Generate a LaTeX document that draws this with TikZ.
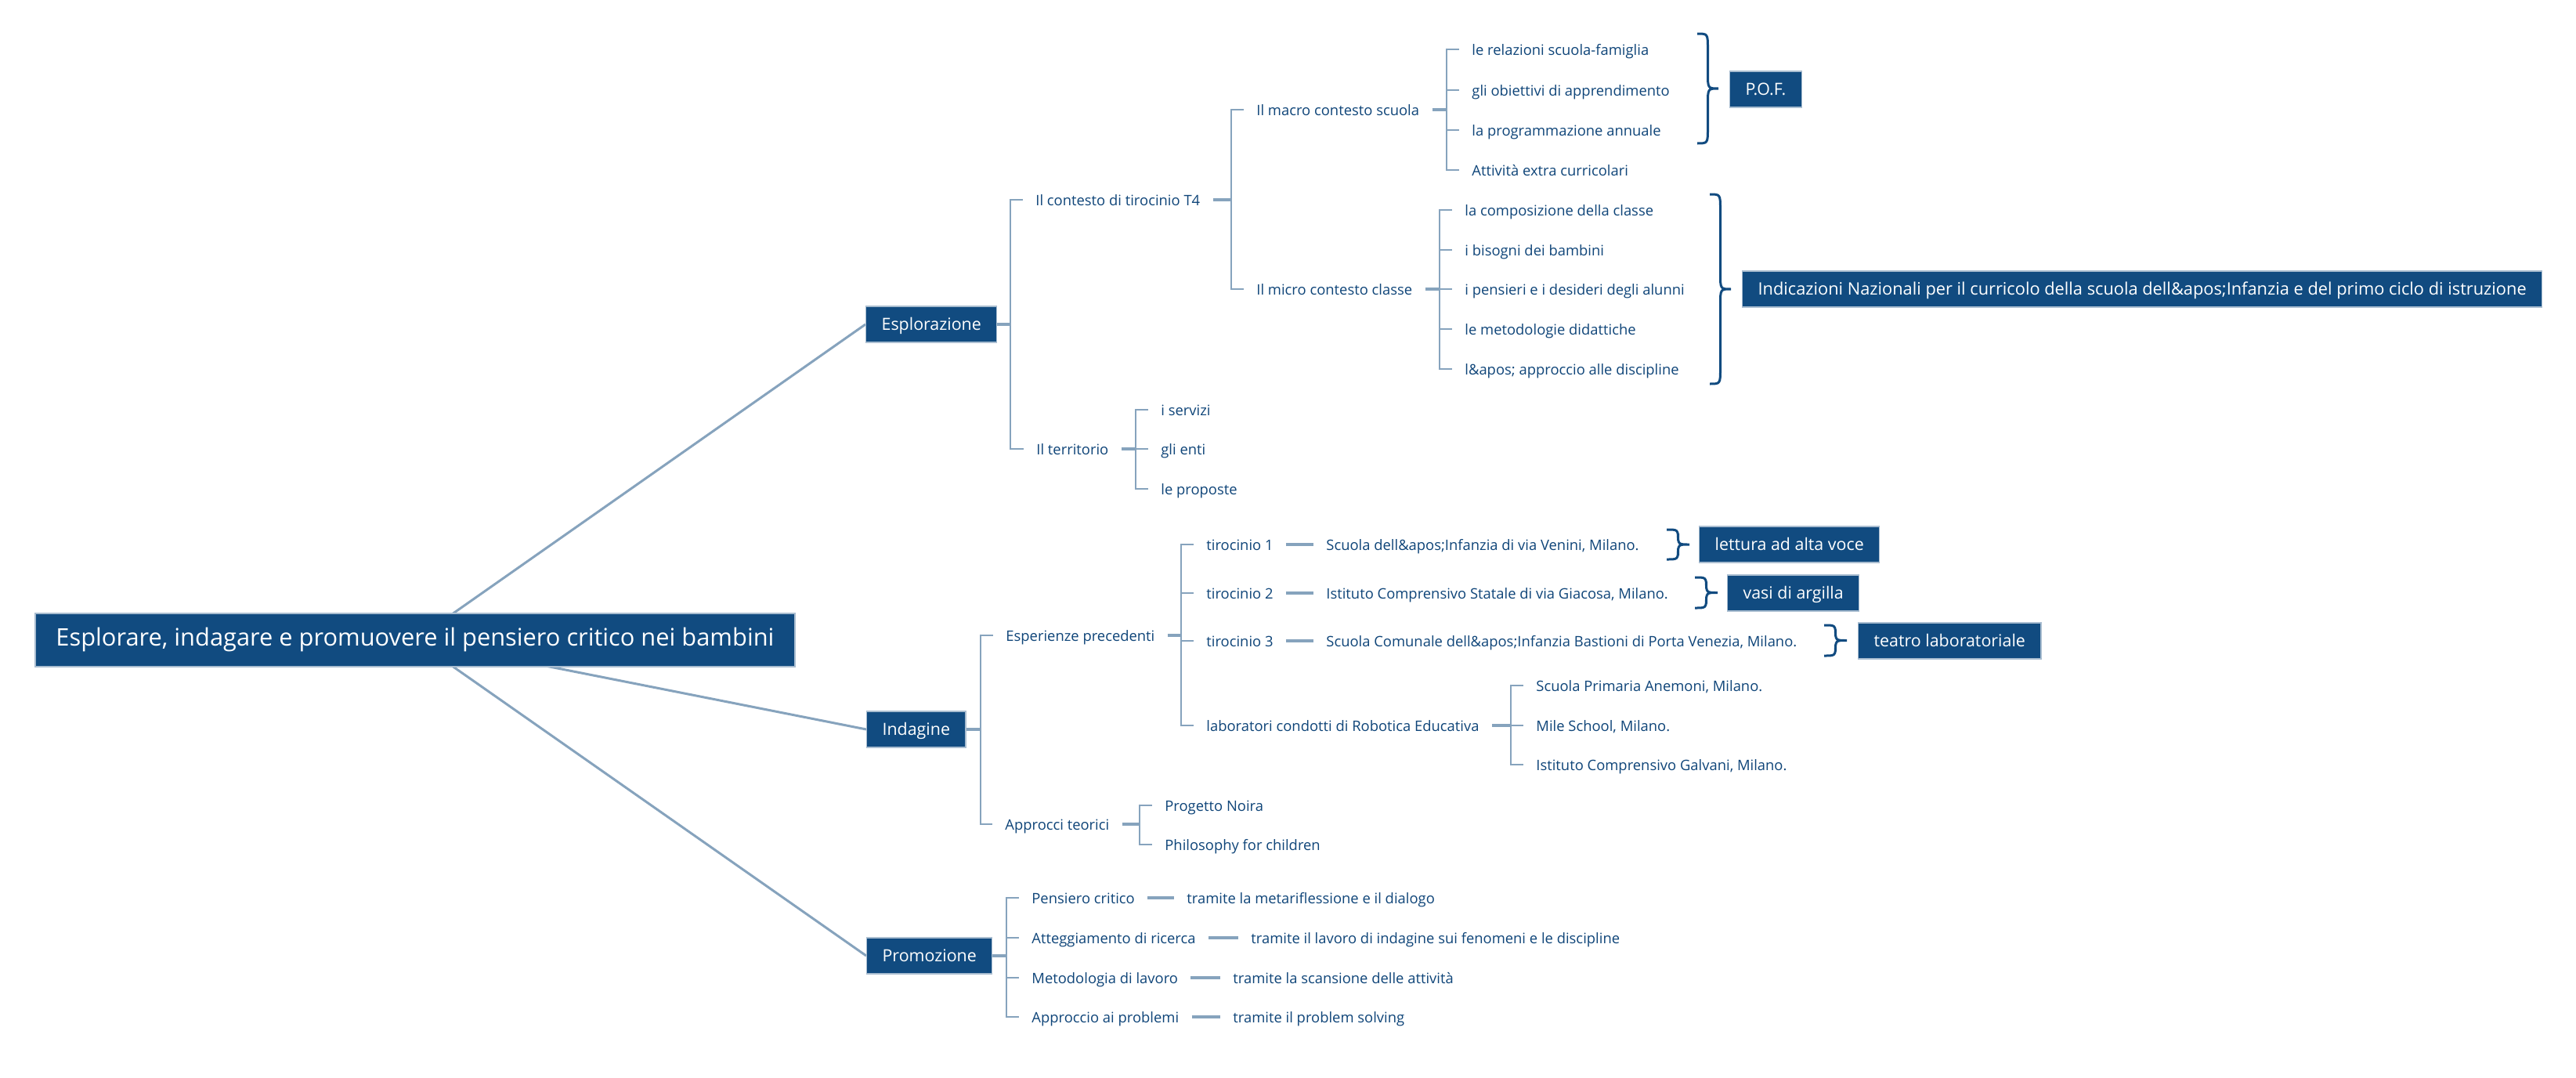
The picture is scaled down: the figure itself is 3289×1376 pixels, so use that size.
\documentclass[tikz,border=0pt]{standalone}
\usepackage{fontspec}
\setmainfont{Open Sans}
\usetikzlibrary{backgrounds,calc}
\definecolor{boxc}{HTML}{114B80}
\definecolor{ink}{HTML}{0F4579}
\definecolor{lnc}{HTML}{86A3BD}
\definecolor{boxedge}{HTML}{A9BDD0}
\newcommand\mybrace[5]{%
 \pgfmathsetmacro\bxm{#1+#4/2}\pgfmathsetmacro\bxt{#1+#4}\pgfmathsetmacro\bym{(#2+#3)/2}%
 \draw[brc] (#1,#2) .. controls (\bxm,#2) .. (\bxm,#2+#5) -- (\bxm,\bym-#5) .. controls (\bxm,\bym) .. (\bxt,\bym) .. controls (\bxm,\bym) .. (\bxm,\bym+#5) -- (\bxm,#3-#5) .. controls (\bxm,#3) .. (#1,#3);
}
\begin{document}
\begin{tikzpicture}[x=0.5pt,y=-0.5pt,
 txt/.style={anchor=west,inner xsep=8pt,inner ysep=0pt,text height=0.72em,text depth=0pt,font=\fontsize{9.2}{11}\selectfont,text=ink},
 tbox/.style={anchor=west,fill=boxc,draw=boxedge,line width=0.6pt,text=white,font=\fontsize{10.7}{13}\selectfont,inner xsep=10pt,inner ysep=0pt,minimum height=23pt,text height=0.72em,text depth=0pt},
 tree/.style={draw=lnc,line width=1.4pt},
 stub/.style={draw=lnc,line width=2pt},
 rootln/.style={draw=lnc,line width=1.5pt},
 brc/.style={draw=boxc,line width=1.5pt},
]
\useasboundingbox (0,0) rectangle (3289,1376);

% ---- main boxes
\node[tbox,anchor=center,minimum width=485pt,minimum height=34pt,inner xsep=0pt,font=\fontsize{15.4}{18}\selectfont] (root) at (530,817) {Esplorare, indagare e promuovere il pensiero critico nei bambini};
\node[tbox] (expl) at (1105,414) {Esplorazione};
\node[tbox] (inda) at (1106,931) {Indagine};
\node[tbox] (prom) at (1106,1220) {Promozione};

% ---- Esplorazione
\node[txt] (ctx) at (1306,255) {Il contesto di tirocinio T4};
\node[txt] (terr) at (1307,573) {Il territorio};
\node[txt] (macro) at (1588,140) {Il macro contesto scuola};
\node[txt] (micro) at (1588,369) {Il micro contesto classe};
\node[txt] (ma1) at (1863,63) {le relazioni scuola-famiglia};
\node[txt] (ma2) at (1863,115) {gli obiettivi di apprendimento};
\node[txt] (ma3) at (1863,166) {la programmazione annuale};
\node[txt] (ma4) at (1863,217) {Attività extra curricolari};
\node[txt] (mi1) at (1854,268) {la composizione della classe};
\node[txt] (mi2) at (1854,319) {i bisogni dei bambini};
\node[txt] (mi3) at (1854,369) {i pensieri e i desideri degli alunni};
\node[txt] (mi4) at (1854,420) {le metodologie didattiche};
\node[txt] (mi5) at (1854,471) {l\&apos; approccio alle discipline};
\node[txt] (te1) at (1466,523) {i servizi};
\node[txt] (te2) at (1466,573) {gli enti};
\node[txt] (te3) at (1466,624) {le proposte};
\node[tbox] (pof) at (2208,114) {P.O.F.};
\node[tbox,font=\fontsize{10.9}{13}\selectfont] (ind) at (2224,369) {Indicazioni Nazionali per il curricolo della scuola dell\&apos;Infanzia e del primo ciclo di istruzione};

% ---- Indagine
\node[txt] (esp) at (1268,811) {Esperienze precedenti};
\node[txt] (appr) at (1267,1052) {Approcci teorici};
\node[txt] (t1) at (1524,695) {tirocinio 1};
\node[txt] (t2) at (1524,757) {tirocinio 2};
\node[txt] (t3) at (1524,818) {tirocinio 3};
\node[txt] (lab) at (1524,926) {laboratori condotti di Robotica Educativa};
\node[txt] (s1) at (1677,695) {Scuola dell\&apos;Infanzia di via Venini, Milano.};
\node[txt] (s2) at (1677,757) {Istituto Comprensivo Statale di via Giacosa, Milano.};
\node[txt] (s3) at (1677,818) {Scuola Comunale dell\&apos;Infanzia Bastioni di Porta Venezia, Milano.};
\node[txt] (l1) at (1945,875) {Scuola Primaria Anemoni, Milano.};
\node[txt] (l2) at (1945,926) {Mile School, Milano.};
\node[txt] (l3) at (1945,976) {Istituto Comprensivo Galvani, Milano.};
\node[txt] (ap1) at (1471,1028) {Progetto Noira};
\node[txt] (ap2) at (1471,1078) {Philosophy for children};
\node[tbox] (let) at (2169,695) {lettura ad alta voce};
\node[tbox] (vasi) at (2205,757) {vasi di argilla};
\node[tbox] (teat) at (2372,818) {teatro laboratoriale};

% ---- Promozione
\node[txt] (p1) at (1301,1146) {Pensiero critico};
\node[txt] (p2) at (1301,1197) {Atteggiamento di ricerca};
\node[txt] (p3) at (1301,1248) {Metodologia di lavoro};
\node[txt] (p4) at (1301,1298) {Approccio ai problemi};
\node[txt] (q1) at (1499,1146) {tramite la metariflessione e il dialogo};
\node[txt] (q2) at (1581,1197) {tramite il lavoro di indagine sui fenomeni e le discipline};
\node[txt] (q3) at (1558,1248) {tramite la scansione delle attività};
\node[txt] (q4) at (1558,1298) {tramite il problem solving};

% ---- root connectors (behind)
\begin{scope}[on background layer]
\fill[white] (0,0) rectangle (3289,1376);
\draw[rootln] (root.center) -- (expl.west);
\draw[rootln] (root.center) -- (inda.west);
\draw[rootln] (root.center) -- (prom.west);
\end{scope}

% ---- bracket connectors
% Esplorazione
\coordinate (vE) at ($(ctx.west)+(-8pt,0pt)$);
\draw[stub] (expl.east) -- (expl.east -| vE);
\draw[tree] (ctx.west) -| (vE |- terr.west) -- (terr.west);
% contesto
\coordinate (vC) at ($(macro.west)+(-8pt,0pt)$);
\draw[stub] (ctx.east) -- (ctx.east -| vC);
\draw[tree] (macro.west) -| (vC |- micro.west) -- (micro.west);
% macro
\coordinate (vM) at ($(ma1.west)+(-8pt,0pt)$);
\draw[stub] (macro.east) -- (macro.east -| vM);
\draw[tree] (ma1.west) -| (vM |- ma4.west) -- (ma4.west);
\draw[tree] (vM |- ma2.west) -- (ma2.west);
\draw[tree] (vM |- ma3.west) -- (ma3.west);
% micro
\coordinate (vI) at ($(mi1.west)+(-8pt,0pt)$);
\draw[stub] (micro.east) -- (micro.east -| vI);
\draw[tree] (mi1.west) -| (vI |- mi5.west) -- (mi5.west);
\draw[tree] (vI |- mi2.west) -- (mi2.west);
\draw[tree] (vI |- mi3.west) -- (mi3.west);
\draw[tree] (vI |- mi4.west) -- (mi4.west);
% territorio
\coordinate (vT) at ($(te1.west)+(-8pt,0pt)$);
\draw[stub] (terr.east) -- (terr.east -| vT);
\draw[tree] (te1.west) -| (vT |- te3.west) -- (te3.west);
\draw[tree] (vT |- te2.west) -- (te2.west);
% Indagine
\coordinate (vN) at ($(esp.west)+(-8pt,0pt)$);
\draw[stub] (inda.east) -- (inda.east -| vN);
\draw[tree] (esp.west) -| (vN |- appr.west) -- (appr.west);
% Esperienze
\coordinate (vX) at ($(t1.west)+(-8pt,0pt)$);
\draw[stub] (esp.east) -- (esp.east -| vX);
\draw[tree] (t1.west) -| (vX |- lab.west) -- (lab.west);
\draw[tree] (vX |- t2.west) -- (t2.west);
\draw[tree] (vX |- t3.west) -- (t3.west);
\draw[stub] (t1.east) -- (s1.west);
\draw[stub] (t2.east) -- (s2.west);
\draw[stub] (t3.east) -- (s3.west);
% laboratori
\coordinate (vL) at ($(l1.west)+(-8pt,0pt)$);
\draw[stub] (lab.east) -- (lab.east -| vL);
\draw[tree] (l1.west) -| (vL |- l3.west) -- (l3.west);
\draw[tree] (vL |- l2.west) -- (l2.west);
% Approcci
\coordinate (vA) at ($(ap1.west)+(-8pt,0pt)$);
\draw[stub] (appr.east) -- (appr.east -| vA);
\draw[tree] (ap1.west) -| (vA |- ap2.west) -- (ap2.west);
% Promozione
\coordinate (vP) at ($(p1.west)+(-8pt,0pt)$);
\draw[stub] (prom.east) -- (prom.east -| vP);
\draw[tree] (p1.west) -| (vP |- p4.west) -- (p4.west);
\draw[tree] (vP |- p2.west) -- (p2.west);
\draw[tree] (vP |- p3.west) -- (p3.west);
\draw[stub] (p1.east) -- (q1.west);
\draw[stub] (p2.east) -- (q2.west);
\draw[stub] (p3.east) -- (q3.west);
\draw[stub] (p4.east) -- (q4.west);

% ---- braces
\mybrace{2167}{43}{183}{27}{20}
\mybrace{2183}{248}{490}{27}{20}
\mybrace{2128}{676}{714}{29}{14}
\mybrace{2164}{737}{776}{29}{14}
\mybrace{2329}{798}{837}{29}{14}
\end{tikzpicture}
\end{document}
